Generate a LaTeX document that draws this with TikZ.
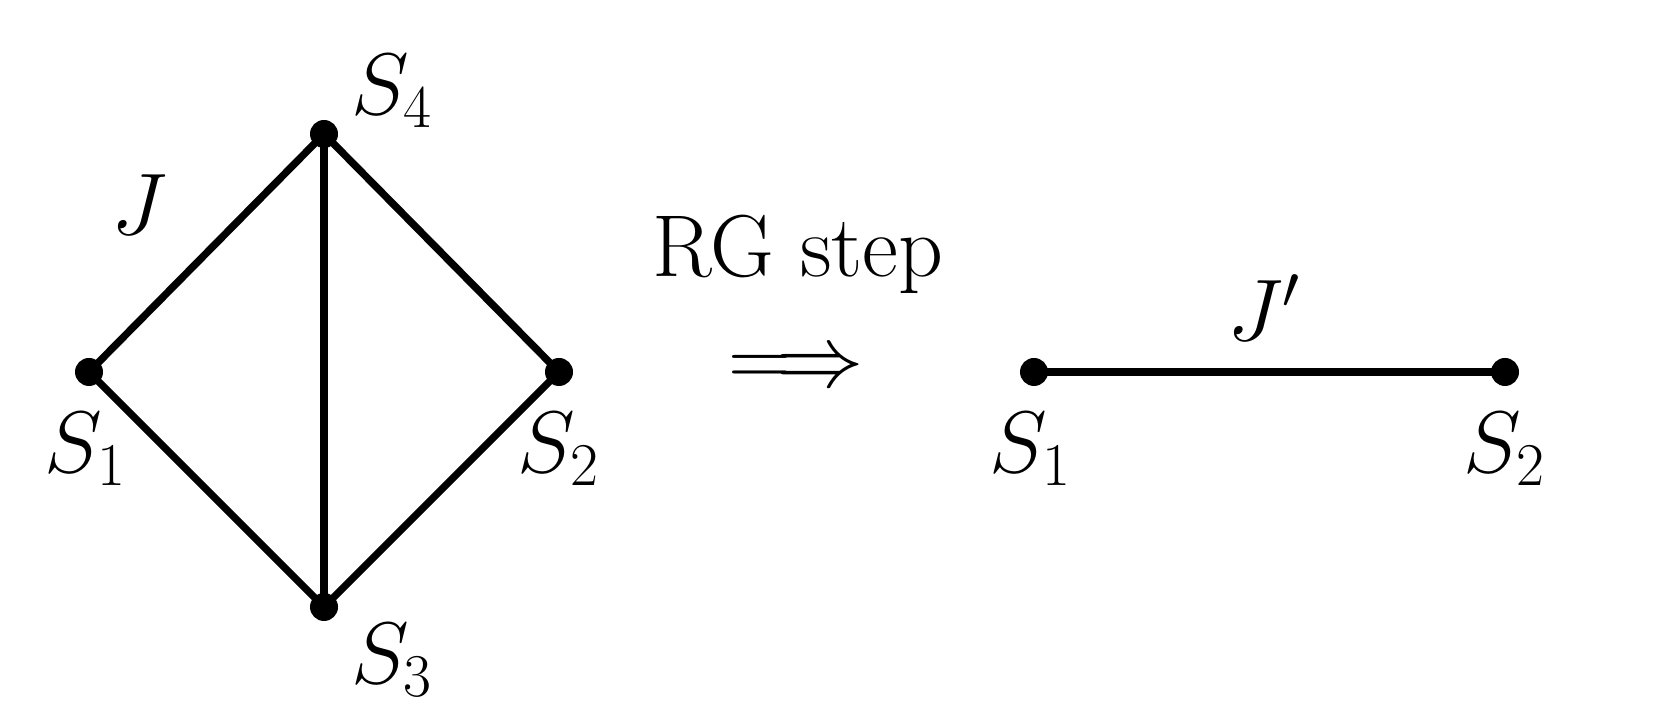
\documentclass[tikz,border=0pt]{standalone}
\usepackage{amsmath,amssymb}
\usepackage{tikz}
\usetikzlibrary{positioning}

\begin{document}
\begin{tikzpicture}[font=\fontsize{25}{30}\selectfont, node distance=2mm,
  site/.style={circle, fill=black, inner sep=0pt, minimum size=2.8mm},
  bond/.style={line width=2.1pt},
  lbl/.style={inner sep=0pt}]
\useasboundingbox (0,0) rectangle (16.8,7.2);
% plaquette before the step
\node[site] (s1) at (0.89,3.48) {};
\node[site] (s4) at (3.24,5.86) {};
\node[site] (s2) at (5.59,3.48) {};
\node[site] (s3) at (3.24,1.13) {};
\draw[bond] (s1.center) -- (s4.center) -- (s2.center) -- (s3.center) -- cycle;
\draw[bond] (s4.center) -- (s3.center);
\node[lbl, below=2.5mm of s1, xshift=-0.3mm] (l1) {$S_1$};
\node[lbl, below=2.5mm of s2] (l2) {$S_2$};
\node[lbl, below right=0.6mm and 1.6mm of s3] (l3) {$S_3$};
\node[lbl, above right=-0.5mm and 1.6mm of s4] (l4) {$S_4$};
\node[lbl] (jj) at (1.39,5.15) {$J$};
% the step
\node[lbl] (rg) at (7.98,4.66) {RG step};
\node[lbl] (arr) at (7.96,3.50) {$\Longrightarrow$};
% after the step
\node[site] (t1) at (10.34,3.48) {};
\node[site] (t2) at (15.05,3.48) {};
\draw[bond] (t1.center) -- (t2.center);
\node[lbl, below=2.5mm of t1, xshift=-0.3mm] (m1) {$S_1$};
\node[lbl, below=2.5mm of t2] (m2) {$S_2$};
\node[lbl] (jp) at (12.64,4.12) {$J'$};
\end{tikzpicture}
\end{document}
